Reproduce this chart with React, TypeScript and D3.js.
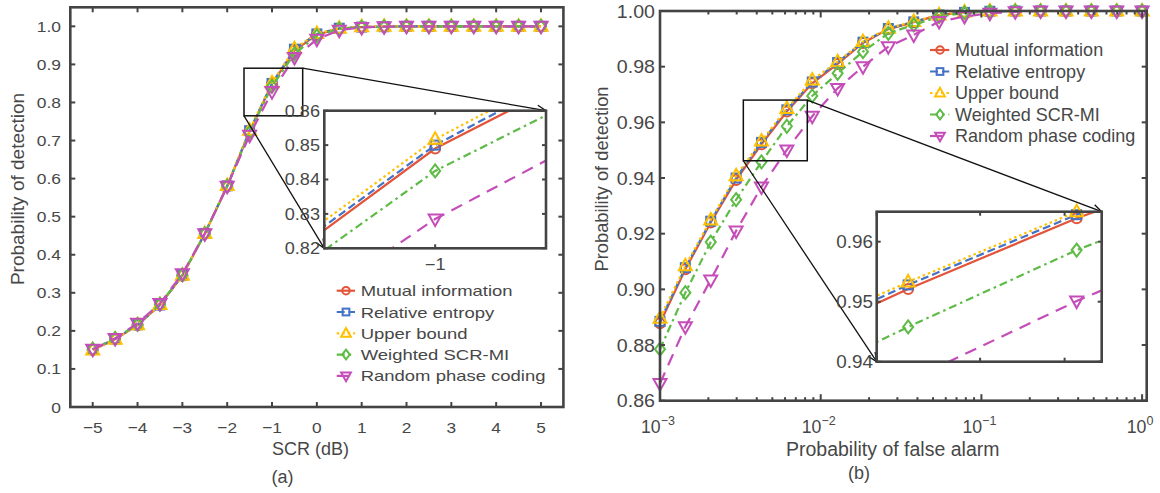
import React from 'react';
import * as d3 from 'd3';

// ---------- data ----------
const scrDb = [-5, -4.5, -4, -3.5, -3, -2.5, -2, -1.5, -1, -0.5, 0, 0.5, 1, 1.5, 2, 2.5, 3, 3.5, 4, 4.5, 5];
const pdMutualA = [0.150, 0.178, 0.215, 0.268, 0.345, 0.455, 0.580, 0.724, 0.849, 0.936, 0.978, 0.994, 0.998, 0.999, 1, 1, 1, 1, 1, 1, 1];
const pdRelativeA = [0.151, 0.179, 0.216, 0.268, 0.346, 0.456, 0.581, 0.726, 0.850, 0.940, 0.980, 0.995, 0.998, 0.999, 1, 1, 1, 1, 1, 1, 1];
const pdUpperA = [0.150, 0.178, 0.216, 0.269, 0.346, 0.456, 0.582, 0.727, 0.8517, 0.941, 0.981, 0.995, 0.999, 1, 1, 1, 1, 1, 1, 1, 1];
const pdWeightedA = [0.152, 0.180, 0.217, 0.270, 0.347, 0.455, 0.580, 0.721, 0.8425, 0.9275, 0.975, 0.993, 0.998, 0.999, 1, 1, 1, 1, 1, 1, 1];
const pdRandomA = [0.152, 0.180, 0.220, 0.272, 0.350, 0.455, 0.580, 0.714, 0.8285, 0.918, 0.966, 0.990, 0.997, 0.999, 1, 1, 1, 1, 1, 1, 1];

const pfa = [0.001, 0.001438, 0.002069, 0.002976, 0.004281, 0.006158, 0.008859, 0.012743, 0.01833, 0.026367,
  0.037927, 0.054556, 0.078476, 0.112884, 0.162378, 0.233572, 0.335982, 0.483293, 0.695193, 1.0];
const pdMutualB = [0.8878, 0.9072, 0.9240, 0.9393, 0.9521, 0.9639, 0.9740, 0.9810, 0.9885, 0.9935, 0.9960, 0.9985, 0.9995, 0.9999, 1, 1, 1, 1, 1, 1];
const pdRelativeB = [0.8885, 0.9078, 0.9245, 0.9400, 0.9528, 0.9645, 0.9745, 0.9815, 0.9888, 0.9937, 0.9961, 0.9986, 0.9995, 0.9999, 1, 1, 1, 1, 1, 1];
const pdUpperB = [0.8896, 0.9085, 0.9249, 0.9408, 0.9533, 0.9650, 0.9752, 0.9818, 0.9890, 0.9938, 0.9962, 0.9986, 0.9996, 1, 1, 1, 1, 1, 1, 1];
const pdWeightedB = [0.8785, 0.8988, 0.9170, 0.9322, 0.9458, 0.9586, 0.9695, 0.9776, 0.9854, 0.9920, 0.9950, 0.9980, 0.9993, 0.9998, 1, 1, 1, 1, 1, 1];
const pdRandomB = [0.8662, 0.8866, 0.9034, 0.9210, 0.9368, 0.9501, 0.9622, 0.9722, 0.9800, 0.9872, 0.9914, 0.9962, 0.9980, 0.9992, 0.9997, 1, 1, 1, 1, 1];

const seriesNames = ['Mutual information', 'Relative entropy', 'Upper bound', 'Weighted SCR-MI', 'Random phase coding'];

const ticksAX = [-5, -4, -3, -2, -1, 0, 1, 2, 3, 4, 5];
const ticksAY = [0, 0.1, 0.2, 0.3, 0.4, 0.5, 0.6, 0.7, 0.8, 0.9, 1.0];
const ticksAiY = [0.82, 0.83, 0.84, 0.85, 0.86];
const ticksAiX = [-1];
const ticksBY = [0.86, 0.88, 0.90, 0.92, 0.94, 0.96, 0.98, 1.00];
const ticksBX = [0.001, 0.01, 0.1, 1];
const expBX = ['−3', '−2', '−1', '0'];
const ticksBiY = [0.94, 0.95, 0.96];
const ticksBiX = [0.004, 0.005, 0.006];

// ---------- style ----------
const FONT = '"Liberation Sans", Arial, Helvetica, sans-serif';
const TXT = '#474747';
const AX = '#444444';
const styles = [
  { color: '#E2553B', dash: '', marker: 'o' },
  { color: '#4472C4', dash: '8,4', marker: 's' },
  { color: '#FFC000', dash: '2.5,3', marker: '^' },
  { color: '#5DBB46', dash: '8,4,2.5,4', marker: 'd' },
  { color: '#C54DB9', dash: '12,8', marker: 'v' },
];

function Txt({ x, y, size, sx = 1, anchor = 'start', rot = 0, children }: any) {
  return (
    <text transform={`translate(${x},${y}) rotate(${rot}) scale(${sx},1)`} fontSize={size}
      textAnchor={anchor} fill={TXT} fontFamily={FONT}>{children}</text>
  );
}

function Marker({ kind, x, y, color, k = 1 }: any) {
  const p = { fill: 'none', stroke: color, strokeWidth: 2 };
  switch (kind) {
    case 'o': return <circle cx={x} cy={y} r={5 * k} {...p} />;
    case 's': return <rect x={x - 4.5 * k} y={y - 4.5 * k} width={9 * k} height={9 * k} {...p} />;
    case '^': return <path d={`M${x},${y - 7 * k}L${x + 6.5 * k},${y + 4.5 * k}L${x - 6.5 * k},${y + 4.5 * k}Z`} {...p} />;
    case 'v': return <path d={`M${x},${y + 7 * k}L${x + 6.5 * k},${y - 4.5 * k}L${x - 6.5 * k},${y - 4.5 * k}Z`} {...p} />;
    case 'd': return <path d={`M${x},${y - 6.5 * k}L${x + 5 * k},${y}L${x},${y + 6.5 * k}L${x - 5 * k},${y}Z`} {...p} />;
  }
  return null;
}

function Series({ xs, ys, xS, yS, st, clip, filt }: any) {
  const line = d3.line<number>().x((_, i) => xS(xs[i])).y((d) => yS(d));
  const pts = ys.map((v: number, i: number) => [xs[i], v]).filter((p: number[]) => (filt ? filt(p[0], p[1]) : true));
  return (
    <g>
      <path d={line(ys) || ''} fill="none" stroke={st.color} strokeWidth={2.2} strokeDasharray={st.dash}
        clipPath={clip ? `url(#${clip})` : undefined} />
      {pts.map((p: number[], i: number) => (
        <Marker key={i} kind={st.marker} x={xS(p[0])} y={yS(p[1])} color={st.color} />
      ))}
    </g>
  );
}

function Frame({ x0, x1, y0, y1 }: any) {
  return <rect x={x0} y={y0} width={x1 - x0} height={y1 - y0} fill="none" stroke={AX} strokeWidth={2.6} />;
}

function XTicks({ vals, xS, y0, y1, len }: any) {
  return <g stroke={AX} strokeWidth={2}>{vals.map((v: number, i: number) => (
    <g key={i}>
      <line x1={xS(v)} x2={xS(v)} y1={y1} y2={y1 - len} />
      <line x1={xS(v)} x2={xS(v)} y1={y0} y2={y0 + len} />
    </g>))}</g>;
}
function YTicks({ vals, yS, x0, x1, len }: any) {
  return <g stroke={AX} strokeWidth={2}>{vals.map((v: number, i: number) => (
    <g key={i}>
      <line x1={x0} x2={x0 + len} y1={yS(v)} y2={yS(v)} />
      <line x1={x1} x2={x1 - len} y1={yS(v)} y2={yS(v)} />
    </g>))}</g>;
}

export default function App() {
  const seriesA = [pdMutualA, pdRelativeA, pdUpperA, pdWeightedA, pdRandomA];
  const seriesB = [pdMutualB, pdRelativeB, pdUpperB, pdWeightedB, pdRandomB];

  // panel (a)
  const xA = d3.scaleLinear().domain([-5.5, 5.5]).range([70.3, 563.4]);
  const yA = d3.scaleLinear().domain([0, 1.05]).range([407, 7.3]);
  const insA = { x0: 324.3, x1: 546, y0: 110.7, y1: 248.3 };
  const xAi = d3.scaleLinear().domain([-1.095, -0.905]).range([insA.x0, insA.x1]);
  const yAi = d3.scaleLinear().domain([0.82, 0.86]).range([insA.y1, insA.y0]);
  const zoomA = { xa: -1.625, xb: -0.316, ya: 0.765, yb: 0.89 };

  // panel (b)
  const xB = d3.scaleLog().domain([0.001, 1.068]).range([660, 1146.7]);
  const yB = d3.scaleLinear().domain([0.86, 1.0]).range([400.7, 11]);
  const insB = { x0: 876.7, x1: 1101.7, y0: 211.7, y1: 361.7 };
  const xBi = d3.scaleLog().domain([0.004, 0.0065]).range([insB.x0, insB.x1]);
  const yBi = d3.scaleLinear().domain([0.94, 0.965]).range([insB.y1, insB.y0]);
  const zoomB = { xa: 0.0033, xb: 0.00825, ya: 0.9462, yb: 0.968 };

  const minorB: number[] = [];
  [0.001, 0.01, 0.1].forEach((d) => { for (let m = 2; m <= 9; m++) minorB.push(d * m); });

  const A = { x0: xA.range()[0], x1: xA.range()[1], y0: yA.range()[1], y1: yA.range()[0] };
  const B = { x0: xB.range()[0], x1: xB.range()[1], y0: yB.range()[1], y1: yB.range()[0] };

  const filtAi = (x: number, y: number) => x >= -1.095 && x <= -0.905 && y >= 0.819 && y <= 0.861;
  const filtBi = (x: number, y: number) => x >= 0.004 && x <= 0.0065 && y >= 0.939 && y <= 0.9655;

  return (
    <svg width={1160} height={493} style={{ position: 'absolute', left: 0, top: 0, background: '#fff' }}>
      <defs>
        <clipPath id="clipAi"><rect x={insA.x0} y={insA.y0} width={insA.x1 - insA.x0} height={insA.y1 - insA.y0} /></clipPath>
        <clipPath id="clipBi"><rect x={insB.x0} y={insB.y0} width={insB.x1 - insB.x0} height={insB.y1 - insB.y0} /></clipPath>
        <marker id="arr" markerUnits="userSpaceOnUse" markerWidth={12} markerHeight={12} refX={10} refY={6} orient="auto">
          <path d="M1,2 L10,6 L1,10" fill="none" stroke="#111" strokeWidth={1.3} />
        </marker>
      </defs>
      <rect x={0} y={0} width={1160} height={493} fill="#fff" />

      {/* ================= panel (a) ================= */}
      {seriesA.map((ys, i) => <Series key={i} xs={scrDb} ys={ys} xS={xA} yS={yA} st={styles[i]} />)}
      <Frame {...A} />
      <XTicks vals={ticksAX} xS={xA} y0={A.y0} y1={A.y1} len={5} />
      <YTicks vals={ticksAY} yS={yA} x0={A.x0} x1={A.x1} len={5} />
      {ticksAX.map((v, i) => (
        <Txt key={i} x={xA(v)} y={432.7} size={15.4} sx={1.12} anchor="middle">{v < 0 ? '−' + Math.abs(v) : String(v)}</Txt>
      ))}
      {ticksAY.map((v, i) => (
        <Txt key={i} x={61} y={yA(v) + 5.5} size={15.4} sx={1.13} anchor="end">{v === 0 ? '0' : v.toFixed(1)}</Txt>
      ))}
      <Txt x={23.5} y={189} size={19} rot={-90} anchor="middle">Probability of detection</Txt>
      <Txt x={310.5} y={455} size={18} anchor="middle">SCR (dB)</Txt>
      <Txt x={282.5} y={483} size={18} anchor="middle">(a)</Txt>

      {/* zoom rect + connectors (a) */}
      <rect x={xA(zoomA.xa)} y={yA(zoomA.yb)} width={xA(zoomA.xb) - xA(zoomA.xa)} height={yA(zoomA.ya) - yA(zoomA.yb)}
        fill="none" stroke="#111" strokeWidth={1.5} />
      <line x1={xA(zoomA.xb)} y1={yA(zoomA.yb)} x2={insA.x1} y2={insA.y0} stroke="#111" strokeWidth={1.3} markerEnd="url(#arr)" />
      <line x1={xA(zoomA.xa)} y1={yA(zoomA.ya)} x2={insA.x0} y2={insA.y1} stroke="#111" strokeWidth={1.3} markerEnd="url(#arr)" />

      {/* inset (a) */}
      <rect x={insA.x0} y={insA.y0} width={insA.x1 - insA.x0} height={insA.y1 - insA.y0} fill="#fff" />
      {seriesA.map((ys, i) => <Series key={i} xs={scrDb} ys={ys} xS={xAi} yS={yAi} st={styles[i]} clip="clipAi" filt={filtAi} />)}
      <Frame {...insA} />
      <XTicks vals={ticksAiX} xS={xAi} y0={insA.y0} y1={insA.y1} len={4} />
      <YTicks vals={ticksAiY} yS={yAi} x0={insA.x0} x1={insA.x1} len={4} />
      {ticksAiY.map((v, i) => (
        <Txt key={i} x={320} y={yAi(v) + 5.8} size={16.2} sx={1.12} anchor="end">{v.toFixed(2)}</Txt>
      ))}
      {ticksAiX.map((v, i) => (
        <Txt key={i} x={xAi(v)} y={270} size={16.2} sx={1.12} anchor="middle">{'−' + Math.abs(v)}</Txt>
      ))}

      {/* legend (a) */}
      {seriesNames.map((n, i) => {
        const y = 290.7 + i * 21.3;
        return (
          <g key={i}>
            <line x1={336.7} x2={355} y1={y} y2={y} stroke={styles[i].color} strokeWidth={2.2} strokeDasharray={styles[i].dash} />
            <Marker kind={styles[i].marker} x={346} y={y} color={styles[i].color} k={0.75} />
            <Txt x={360.7} y={y + 5.5} size={15.4} sx={1.2}>{n}</Txt>
          </g>
        );
      })}

      {/* ================= panel (b) ================= */}
      {seriesB.map((ys, i) => <Series key={i} xs={pfa} ys={ys} xS={xB} yS={yB} st={styles[i]} />)}
      <Frame {...B} />
      <XTicks vals={ticksBX} xS={xB} y0={B.y0} y1={B.y1} len={6.5} />
      <XTicks vals={minorB} xS={xB} y0={B.y0} y1={B.y1} len={3.5} />
      <YTicks vals={ticksBY} yS={yB} x0={B.x0} x1={B.x1} len={5} />
      {ticksBX.map((v, i) => (
        <text key={i} x={xB(v) - 2} y={433.3} fontSize={17.7} textAnchor="middle" fill={TXT} fontFamily={FONT}>
          10<tspan dy={-8} fontSize={12.5}>{expBX[i]}</tspan>
        </text>
      ))}
      {ticksBY.map((v, i) => (
        <Txt key={i} x={655} y={yB(v) + 6.6} size={18.5} sx={1.06} anchor="end">{v.toFixed(2)}</Txt>
      ))}
      <Txt x={608} y={179} size={18.3} rot={-90} anchor="middle">Probability of detection</Txt>
      <Txt x={892.7} y={456} size={19.5} anchor="middle">Probability of false alarm</Txt>
      <Txt x={859} y={479} size={18} anchor="middle">(b)</Txt>

      {/* zoom rect + connectors (b) */}
      <rect x={xB(zoomB.xa)} y={yB(zoomB.yb)} width={xB(zoomB.xb) - xB(zoomB.xa)} height={yB(zoomB.ya) - yB(zoomB.yb)}
        fill="none" stroke="#111" strokeWidth={1.5} />
      <line x1={xB(zoomB.xb)} y1={yB(zoomB.yb)} x2={insB.x1} y2={insB.y0} stroke="#111" strokeWidth={1.3} markerEnd="url(#arr)" />
      <line x1={xB(zoomB.xa)} y1={yB(zoomB.ya)} x2={insB.x0} y2={insB.y1} stroke="#111" strokeWidth={1.3} markerEnd="url(#arr)" />

      {/* inset (b) */}
      <rect x={insB.x0} y={insB.y0} width={insB.x1 - insB.x0} height={insB.y1 - insB.y0} fill="#fff" />
      {seriesB.map((ys, i) => <Series key={i} xs={pfa} ys={ys} xS={xBi} yS={yBi} st={styles[i]} clip="clipBi" filt={filtBi} />)}
      <Frame {...insB} />
      <XTicks vals={ticksBiX} xS={xBi} y0={insB.y0} y1={insB.y1} len={4} />
      <YTicks vals={ticksBiY} yS={yBi} x0={insB.x0} x1={insB.x1} len={4} />
      {ticksBiY.map((v, i) => (
        <Txt key={i} x={873} y={yBi(v) + 6.6} size={18.5} sx={1.02} anchor="end">{v.toFixed(2)}</Txt>
      ))}

      {/* legend (b) */}
      {seriesNames.map((n, i) => {
        const y = 50 + i * 21.5;
        return (
          <g key={i}>
            <line x1={930} x2={949.3} y1={y} y2={y} stroke={styles[i].color} strokeWidth={2.2} strokeDasharray={styles[i].dash} />
            <Marker kind={styles[i].marker} x={940} y={y} color={styles[i].color} k={0.75} />
            <Txt x={955} y={y + 6.3} size={17.5} sx={1.03}>{n}</Txt>
          </g>
        );
      })}
    </svg>
  );
}
